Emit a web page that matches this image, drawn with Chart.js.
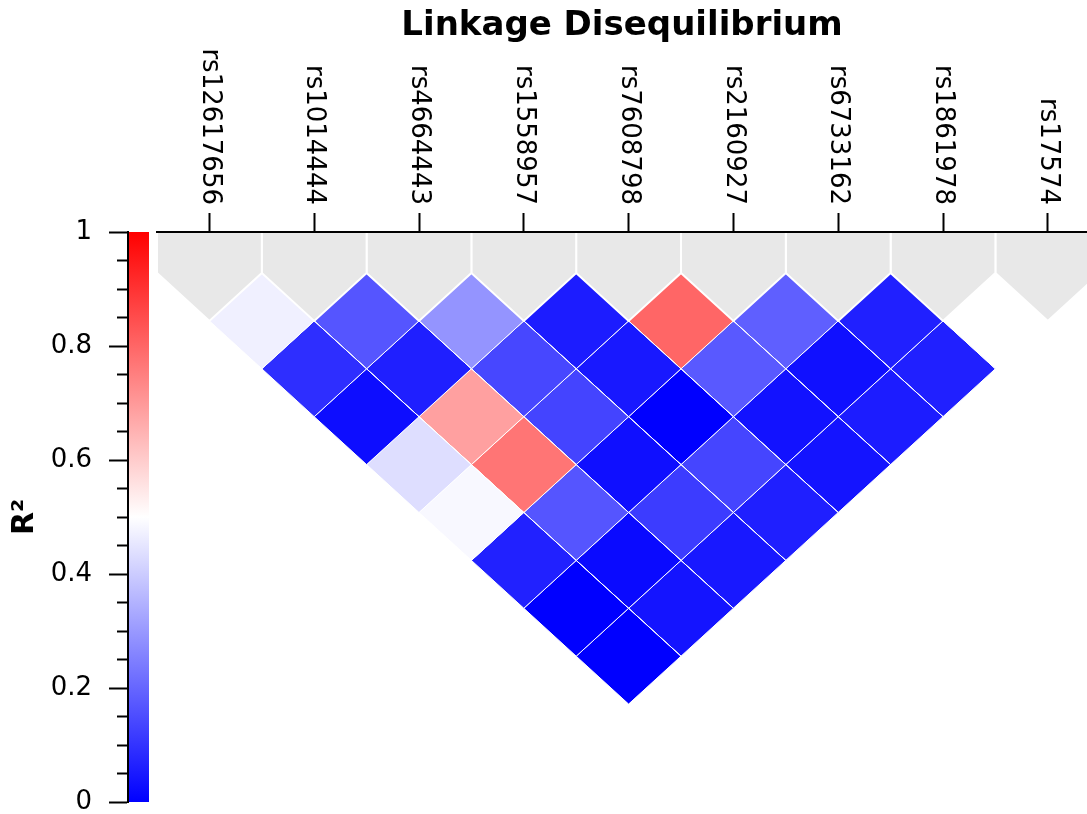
<!DOCTYPE html>
<html>
<head>
<meta charset="utf-8">
<title>Linkage Disequilibrium</title>
<script src="https://cdn.jsdelivr.net/npm/chart.js@4.4.0/dist/chart.umd.min.js"></script>
<style>
  body { margin: 0; background: #fff; }
  canvas { display: block; }
</style>
</head>
<body>
<canvas id="ldChart" width="1087" height="814"></canvas>
<script>
const snps = ['rs12617656', 'rs1014444', 'rs4664443', 'rs1558957', 'rs7608798',
              'rs2160927', 'rs6733162', 'rs1861978', 'rs17574'];

// r² of each SNP with every SNP to its right
const r2From0 = [0.47, 0.09, 0.025, 0.435, 0.487, 0.065, 0, 0];
const r2From1 = [0.167, 0.06, 0.686, 0.77, 0.167, 0.02, 0.04];
const r2From2 = [0.29, 0.14, 0.133, 0.03, 0.118, 0.047];
const r2From3 = [0.055, 0.047, 0, 0.135, 0.06];
const r2From4 = [0.8, 0.175, 0.035, 0.04];
const r2From5 = [0.187, 0.031, 0.055];
const r2From6 = [0.063, 0.063];
const r2From7 = [0.5];
const r2Rows = [r2From0, r2From1, r2From2, r2From3, r2From4, r2From5, r2From6, r2From7];

// colour bar axis
const r2LabelTicks = [0, 0.2, 0.4, 0.6, 0.8, 1];
const r2MinorStep = 0.05;

// vertical scale of the triangle, in half-diamond units (0 = top of first row)
const LD_MIN = -0.856;
const LD_MAX = 11.044;
const X_MIN = -0.5;
const X_MAX = 8.374;

const FONT = 'DejaVu Sans';

function r2Color(v) {
    let c;
    if (v <= 0.5) {
        c = Math.round(255 * v / 0.5);
        return `rgb(${c},${c},255)`;
    }
    c = Math.round(255 * (1 - v) / 0.5);
    return `rgb(255,${c},${c})`;
}

function isLabelTick(v) {
    return r2LabelTicks.some(t => Math.abs(t - v) < 1e-6);
}

const shapeStyle = {
    showLine: true,
    fill: 'shape',
    pointRadius: 0,
    pointHoverRadius: 0,
    tension: 0,
    borderJoinStyle: 'miter',
    borderColor: '#ffffff',
    xAxisID: 'x',
    yAxisID: 'yLD',
    clip: 0
};

const datasets = [];

// grey blocks under every SNP tick
snps.forEach((name, i) => {
    datasets.push(Object.assign({}, shapeStyle, {
        label: name,
        data: [
            { x: i - 0.5, y: LD_MIN }, { x: i + 0.5, y: LD_MIN }, { x: i + 0.5, y: 0 },
            { x: i, y: 1 }, { x: i - 0.5, y: 0 }, { x: i - 0.5, y: LD_MIN }, { x: i + 0.5, y: LD_MIN }
        ],
        backgroundColor: '#e8e8e8',
        borderWidth: 2
    }));
});

// one diamond per SNP pair
r2Rows.forEach((row, i) => {
    row.forEach((value, n) => {
        const j = i + n + 1;
        const xc = (i + j) / 2;
        const k = j - i;
        datasets.push(Object.assign({}, shapeStyle, {
            label: snps[i] + ' / ' + snps[j],
            data: [
                { x: xc, y: k - 1 }, { x: xc + 0.5, y: k }, { x: xc, y: k + 1 },
                { x: xc - 0.5, y: k }, { x: xc, y: k - 1 }, { x: xc + 0.5, y: k }
            ],
            backgroundColor: r2Color(value),
            borderWidth: 1
        }));
    });
});

const colorBar = {
    id: 'colorBar',
    beforeDatasetsDraw(chart) {
        const ctx = chart.ctx;
        const s = chart.scales.r2;
        const g = chart.scales.gap;
        const top = s.getPixelForValue(1);
        const bottom = s.getPixelForValue(0);
        const grad = ctx.createLinearGradient(0, bottom, 0, top);
        grad.addColorStop(0, r2Color(0));
        grad.addColorStop(0.5, r2Color(0.5));
        grad.addColorStop(1, r2Color(1));
        ctx.save();
        ctx.fillStyle = grad;
        ctx.fillRect(g.left + 1, top, 20, bottom - top);
        ctx.restore();
    }
};

new Chart(document.getElementById('ldChart'), {
    type: 'scatter',
    data: { datasets: datasets },
    plugins: [colorBar],
    options: {
        responsive: false,
        animation: false,
        events: [],
        layout: { padding: { left: 0, right: 0, top: 0, bottom: 12 } },
        plugins: {
            legend: { display: false },
            tooltip: { enabled: false },
            title: {
                display: true,
                text: 'Linkage Disequilibrium',
                fullSize: false,
                color: '#000',
                font: { family: FONT, size: 34, weight: 'bold' },
                padding: { top: 6, bottom: 185.2 }
            }
        },
        scales: {
            x: {
                type: 'linear',
                axis: 'x',
                position: { yLD: LD_MIN },
                min: X_MIN,
                max: X_MAX,
                afterBuildTicks: scale => {
                    scale.ticks = snps.map((s, i) => ({ value: i }));
                },
                ticks: {
                    autoSkip: false,
                    minRotation: -90,
                    maxRotation: -90,
                    padding: -7,
                    color: '#000',
                    font: { family: FONT, size: 26 },
                    callback: value => snps[value]
                },
                grid: {
                    drawOnChartArea: false,
                    tickLength: -20,
                    tickWidth: 2,
                    tickColor: '#000'
                },
                border: { color: '#000', width: 2, z: 1 }
            },
            yLD: {
                type: 'linear',
                axis: 'y',
                position: 'right',
                display: false,
                reverse: true,
                min: LD_MIN,
                max: LD_MAX
            },
            r2: {
                type: 'linear',
                axis: 'y',
                position: 'left',
                weight: 1,
                min: 0,
                max: 1,
                afterFit: scale => { scale.width = 128; },
                ticks: {
                    stepSize: r2MinorStep,
                    autoSkip: false,
                    padding: 0,
                    color: '#000',
                    font: { family: FONT, size: 26, lineHeight: 0.9 },
                    callback: value => isLabelTick(value) ? String(Math.round(value * 10) / 10) : ''
                },
                grid: {
                    drawOnChartArea: false,
                    // long tick slot; the dash pattern shows only the part next to the axis
                    tickLength: 36,
                    tickWidth: 2,
                    tickColor: '#000',
                    tickBorderDash: ctx => isLabelTick(ctx.tick.value) ? [18, 17] : [10, 25],
                    tickBorderDashOffset: ctx => isLabelTick(ctx.tick.value) ? 18 : 10
                },
                border: { color: '#000', width: 2 },
                title: {
                    display: true,
                    text: 'R²',
                    color: '#000',
                    font: { family: FONT, size: 30, weight: 'bold' },
                    padding: { top: 7, bottom: 0 }
                }
            },
            gap: {
                type: 'linear',
                axis: 'y',
                position: 'left',
                weight: 0,
                afterFit: scale => { scale.width = 29; },
                ticks: { display: false },
                grid: { display: false, drawTicks: false },
                border: { display: false }
            }
        }
    }
});
</script>
</body>
</html>
